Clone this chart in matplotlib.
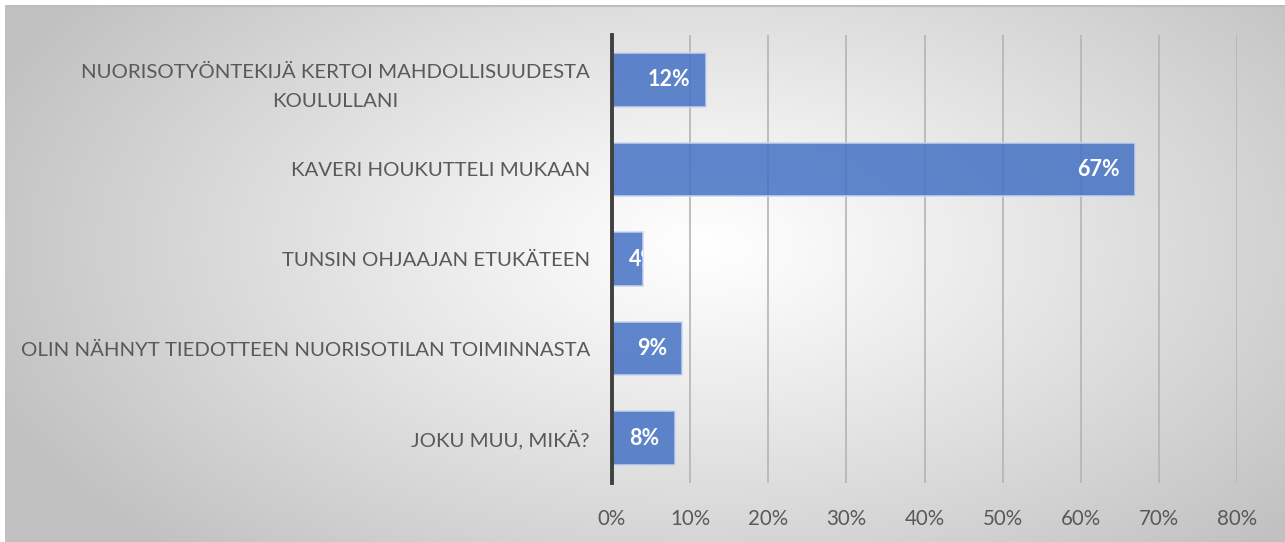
import numpy as np
import matplotlib
matplotlib.use("Agg")
import matplotlib.pyplot as plt
from matplotlib.ticker import FuncFormatter

# data
categories = [
    "NUORISOTYÖNTEKIJÄ KERTOI MAHDOLLISUUDESTA\nKOULULLANI",
    "KAVERI HOUKUTTELI MUKAAN",
    "TUNSIN OHJAAJAN ETUKÄTEEN",
    "OLIN NÄHNYT TIEDOTTEEN NUORISOTILAN TOIMINNASTA",
    "JOKU MUU, MIKÄ?",
]
values = [0.12, 0.67, 0.04, 0.09, 0.08]
value_labels = ["12%", "67%", "4%", "9%", "8%"]
xticks = [0, 0.1, 0.2, 0.3, 0.4, 0.5, 0.6, 0.7, 0.8]

plt.rcParams['font.family'] = ['Lato', 'DejaVu Sans']

W, H = 1285, 542
fig = plt.figure(figsize=(W / 100, H / 100), dpi=100)

# radial gray background
bg = fig.add_axes([5 / W, 0, 1 - 5 / W, 1 - 5 / H], zorder=-10)
yy, xx = np.mgrid[0:H - 5, 0:W - 5]
d = np.sqrt(((xx - 700) / 760.0) ** 2 + ((yy - 240) / 420.0) ** 2)
shade = 1.0 - 0.24 * np.clip(d, 0, 1) ** 1.1
bg.imshow(np.dstack([shade] * 3), aspect='auto', interpolation='bilinear')
bg.axhline(0, color='#bdbdbd', lw=1.5)
bg.set_axis_off()

ax = fig.add_axes([612 / W, 59 / H, (1237 - 612) / W, (483 - 35) / H])
ax.patch.set_alpha(0)

y = np.arange(len(categories))
bars = ax.barh(y, values, height=0.6, color='#4472C4', alpha=0.85,
               edgecolor='#c9d6ef', linewidth=1.2, zorder=3)

for b, v, lab in zip(bars, values, value_labels):
    if v >= 0.06:
        t = ax.annotate(lab, (v, b.get_y() + b.get_height() / 2),
                        xytext=(-11, 0), textcoords='offset points',
                        ha='right', va='center', color='white',
                        fontsize=15.5, fontweight='bold', zorder=5)
    else:
        t = ax.annotate(lab, (0, b.get_y() + b.get_height() / 2),
                        xytext=(12, 0), textcoords='offset points',
                        ha='left', va='center', color='white',
                        fontsize=15.5, fontweight='bold', zorder=5)
    t.set_clip_path(b)

ax.set_xlim(0, 0.8)
ax.set_ylim(len(categories) - 0.5, -0.5)
ax.set_xticks(xticks)
ax.xaxis.set_major_formatter(FuncFormatter(lambda v, p: f"{v * 100:.0f}%"))
ax.set_yticks(y)
ax.set_yticklabels(categories, multialignment='center', linespacing=1.85)
ax.grid(axis='x', color='#b4b4b4', lw=1.2, zorder=0)
ax.set_axisbelow(True)
for s in ['top', 'right', 'bottom']:
    ax.spines[s].set_visible(False)
ax.spines['left'].set_color('#404040')
ax.spines['left'].set_linewidth(2.8)
ax.spines['left'].set_zorder(4)
ax.tick_params(axis='y', length=0, pad=16, labelsize=14.7, labelcolor='#595959')
ax.tick_params(axis='x', length=0, pad=19, labelsize=14.8, labelcolor='#595959')

fig.savefig("out.png", dpi=100)
